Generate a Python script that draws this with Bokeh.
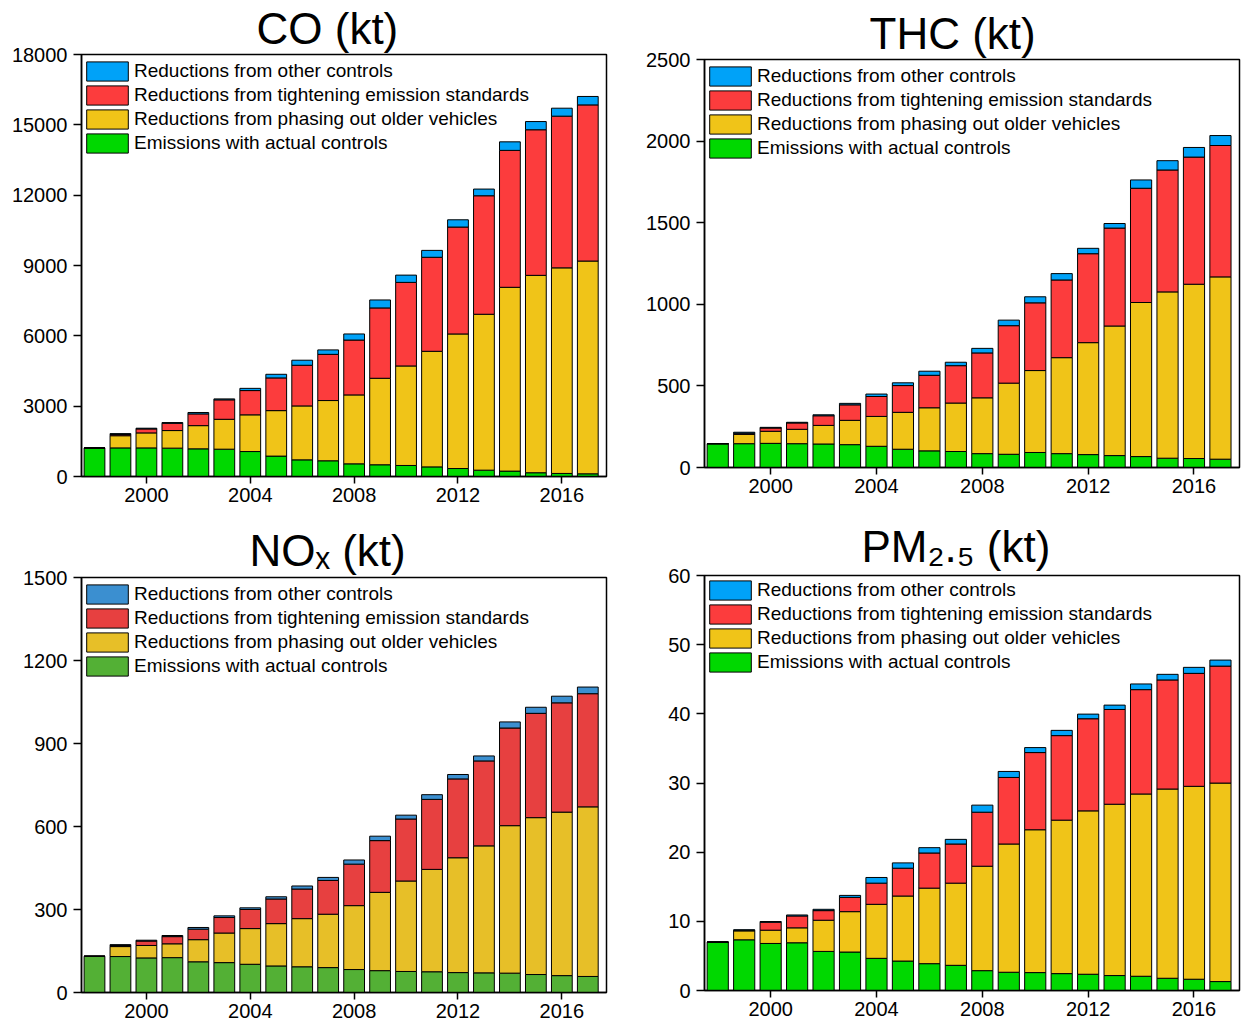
from bokeh.plotting import figure
from bokeh.models import Range1d, Legend, LegendItem, ColumnDataSource, FixedTicker
from bokeh.layouts import row, column
from bokeh.embed import file_html
from bokeh.resources import INLINE

years = list(range(1998, 2018))
x_ticks = [2000, 2004, 2008, 2012, 2016]
series_labels = ["Emissions with actual controls",
                 "Reductions from phasing out older vehicles",
                 "Reductions from tightening emission standards",
                 "Reductions from other controls"]

# CO (kt)
co_actual = [1220, 1220, 1220, 1210, 1180, 1165, 1065, 870, 710, 670, 540, 500, 470, 410, 340, 270, 230, 160, 130, 115]
co_phase = [0, 520, 640, 750, 990, 1275, 1565, 1940, 2300, 2570, 2940, 3690, 4245, 4930, 5740, 6650, 7840, 8420, 8770, 9075]
co_tight = [0, 50, 170, 310, 500, 830, 1035, 1395, 1735, 1970, 2340, 3000, 3565, 4010, 4560, 5055, 5840, 6210, 6470, 6660]
co_other = [0, 40, 30, 30, 60, 40, 95, 155, 215, 190, 260, 340, 310, 295, 310, 285, 365, 350, 340, 360]
co_yticks = [0, 3000, 6000, 9000, 12000, 15000, 18000]

# THC (kt)
thc_actual = [146, 146, 148, 146, 144, 140, 130, 112, 102, 98, 85, 81, 92, 85, 79, 73, 67, 57, 55, 51]
thc_phase = [0, 57, 74, 88, 114, 149, 183, 226, 264, 297, 342, 436, 502, 588, 686, 794, 944, 1019, 1068, 1117]
thc_tight = [0, 7, 20, 39, 59, 95, 122, 164, 199, 229, 275, 352, 415, 476, 545, 600, 700, 747, 779, 805]
thc_other = [0, 6, 4, 4, 6, 9, 15, 17, 25, 21, 28, 34, 37, 39, 33, 28, 51, 57, 59, 61]
thc_yticks = [0, 500, 1000, 1500, 2000, 2500]

# NOx (kt)
nox_actual = [131, 130, 125, 126, 111, 108, 102, 96, 93, 90, 83, 79, 76, 75, 72, 71, 70, 65, 61, 58]
nox_phase = [0, 36, 45, 50, 80, 107, 129, 153, 174, 193, 231, 283, 327, 370, 415, 459, 533, 567, 591, 613]
nox_tight = [0, 4, 16, 26, 38, 56, 69, 89, 107, 122, 150, 187, 224, 253, 285, 307, 353, 377, 395, 409]
nox_other = [0, 3, 3, 4, 6, 6, 6, 8, 11, 11, 15, 16, 14, 17, 16, 18, 22, 22, 24, 24]
nox_yticks = [0, 300, 600, 900, 1200, 1500]

# PM2.5 (kt)
pm_actual = [7.0, 7.33, 6.8, 6.9, 5.65, 5.56, 4.65, 4.26, 3.88, 3.64, 2.87, 2.64, 2.59, 2.44, 2.35, 2.16, 2.06, 1.77, 1.63, 1.29]
pm_phase = [0, 1.29, 1.92, 2.16, 4.51, 5.84, 7.81, 9.40, 10.92, 11.88, 15.10, 18.54, 20.65, 22.19, 23.62, 24.77, 26.35, 27.36, 27.89, 28.70]
pm_tight = [0, 0.10, 1.15, 1.72, 1.39, 2.06, 3.06, 4.02, 5.08, 5.66, 7.81, 9.62, 11.16, 12.22, 13.32, 13.70, 15.09, 15.77, 16.33, 16.91]
pm_other = [0, 0.05, 0.10, 0.14, 0.19, 0.29, 0.82, 0.77, 0.77, 0.67, 1.02, 0.87, 0.72, 0.76, 0.67, 0.63, 0.82, 0.81, 0.87, 0.87]
pm_yticks = [0, 10, 20, 30, 40, 50, 60]

bright_colors = ["#00D800", "#F0C418", "#FC3C3D", "#00A2F8"]
nox_colors = ["#53B035", "#E7BF28", "#E74040", "#3B8FD0"]

FONT = "Liberation Sans"
LEGEND_H = 104   # nominal legend box height
LEGEND_TOP = -3  # shift of legend relative to frame top


def make_panel(title, title_offset, title_standoff, comps, colors, ymax, yticks,
               w, h, bl, br, bt, bb):
    p = figure(width=w, height=h, x_range=Range1d(1997.5, 2017.72), y_range=Range1d(0, ymax),
               output_backend="svg", toolbar_location=None,
               min_border_left=bl, min_border_right=br, min_border_top=bt, min_border_bottom=bb)
    p.title.text = title
    p.title.text_font = FONT
    p.title.text_font_size = "44px"
    p.title.text_font_style = "normal"
    p.title.text_color = "black"
    p.title.align = "left"
    p.title.offset = title_offset
    p.title.standoff = title_standoff
    src = ColumnDataSource(dict(year=years, a=comps[0], b=comps[1], c=comps[2], d=comps[3]))
    rs = p.vbar_stack(["a", "b", "c", "d"], x="year", width=0.8, fill_color=colors,
                      line_color="black", line_width=1, source=src)
    items = [LegendItem(label=series_labels[i], renderers=[rs[i]]) for i in [3, 2, 1, 0]]
    frame_h = h - bt - bb
    leg = Legend(items=items, location=(0, frame_h - LEGEND_H - LEGEND_TOP), margin=0, padding=4,
                 glyph_width=52, glyph_height=24, label_height=20, label_standoff=1, spacing=0,
                 border_line_color=None, background_fill_alpha=0,
                 label_text_font=FONT, label_text_font_size="19px", label_text_color="black")
    p.add_layout(leg)
    p.xgrid.visible = False
    p.ygrid.visible = False
    p.outline_line_color = "black"
    p.outline_line_width = 1.5
    p.xaxis.ticker = FixedTicker(ticks=x_ticks)
    p.yaxis.ticker = FixedTicker(ticks=yticks)
    for ax in (p.xaxis[0], p.yaxis[0]):
        ax.major_label_text_font = FONT
        ax.major_label_text_font_size = "20px"
        ax.major_label_text_color = "black"
        ax.axis_line_color = "black"
        ax.axis_line_width = 1.5
        ax.major_tick_line_color = "black"
        ax.major_tick_line_width = 1.5
        ax.major_tick_in = 0
        ax.minor_tick_line_color = None
    p.xaxis.major_tick_out = 7
    p.xaxis.major_label_standoff = 4
    p.yaxis.major_tick_out = 8
    p.yaxis.major_label_standoff = 6
    return p


p1 = make_panel("CO (kt)", 175, 3, [co_actual, co_phase, co_tight, co_other],
                bright_colors, 18000, co_yticks, 628, 520, 81, 22, 54, 44)
p2 = make_panel("THC (kt)", 165, 3, [thc_actual, thc_phase, thc_tight, thc_other],
                bright_colors, 2500, thc_yticks, 617, 515, 76, 6, 59, 48)
p3 = make_panel("NO\u2093 (kt)", 168, 5, [nox_actual, nox_phase, nox_tight, nox_other],
                nox_colors, 1500, nox_yticks, 628, 510, 81, 22, 57, 38)
p4 = make_panel("PM\u2082.\u2085 (kt)", 157, 9, [pm_actual, pm_phase, pm_tight, pm_other],
                bright_colors, 60, pm_yticks, 617, 515, 76, 6, 58, 40)

layout = row(column(p1, p3), column(p2, p4))
open("out.html", "w").write(file_html(layout, INLINE))
